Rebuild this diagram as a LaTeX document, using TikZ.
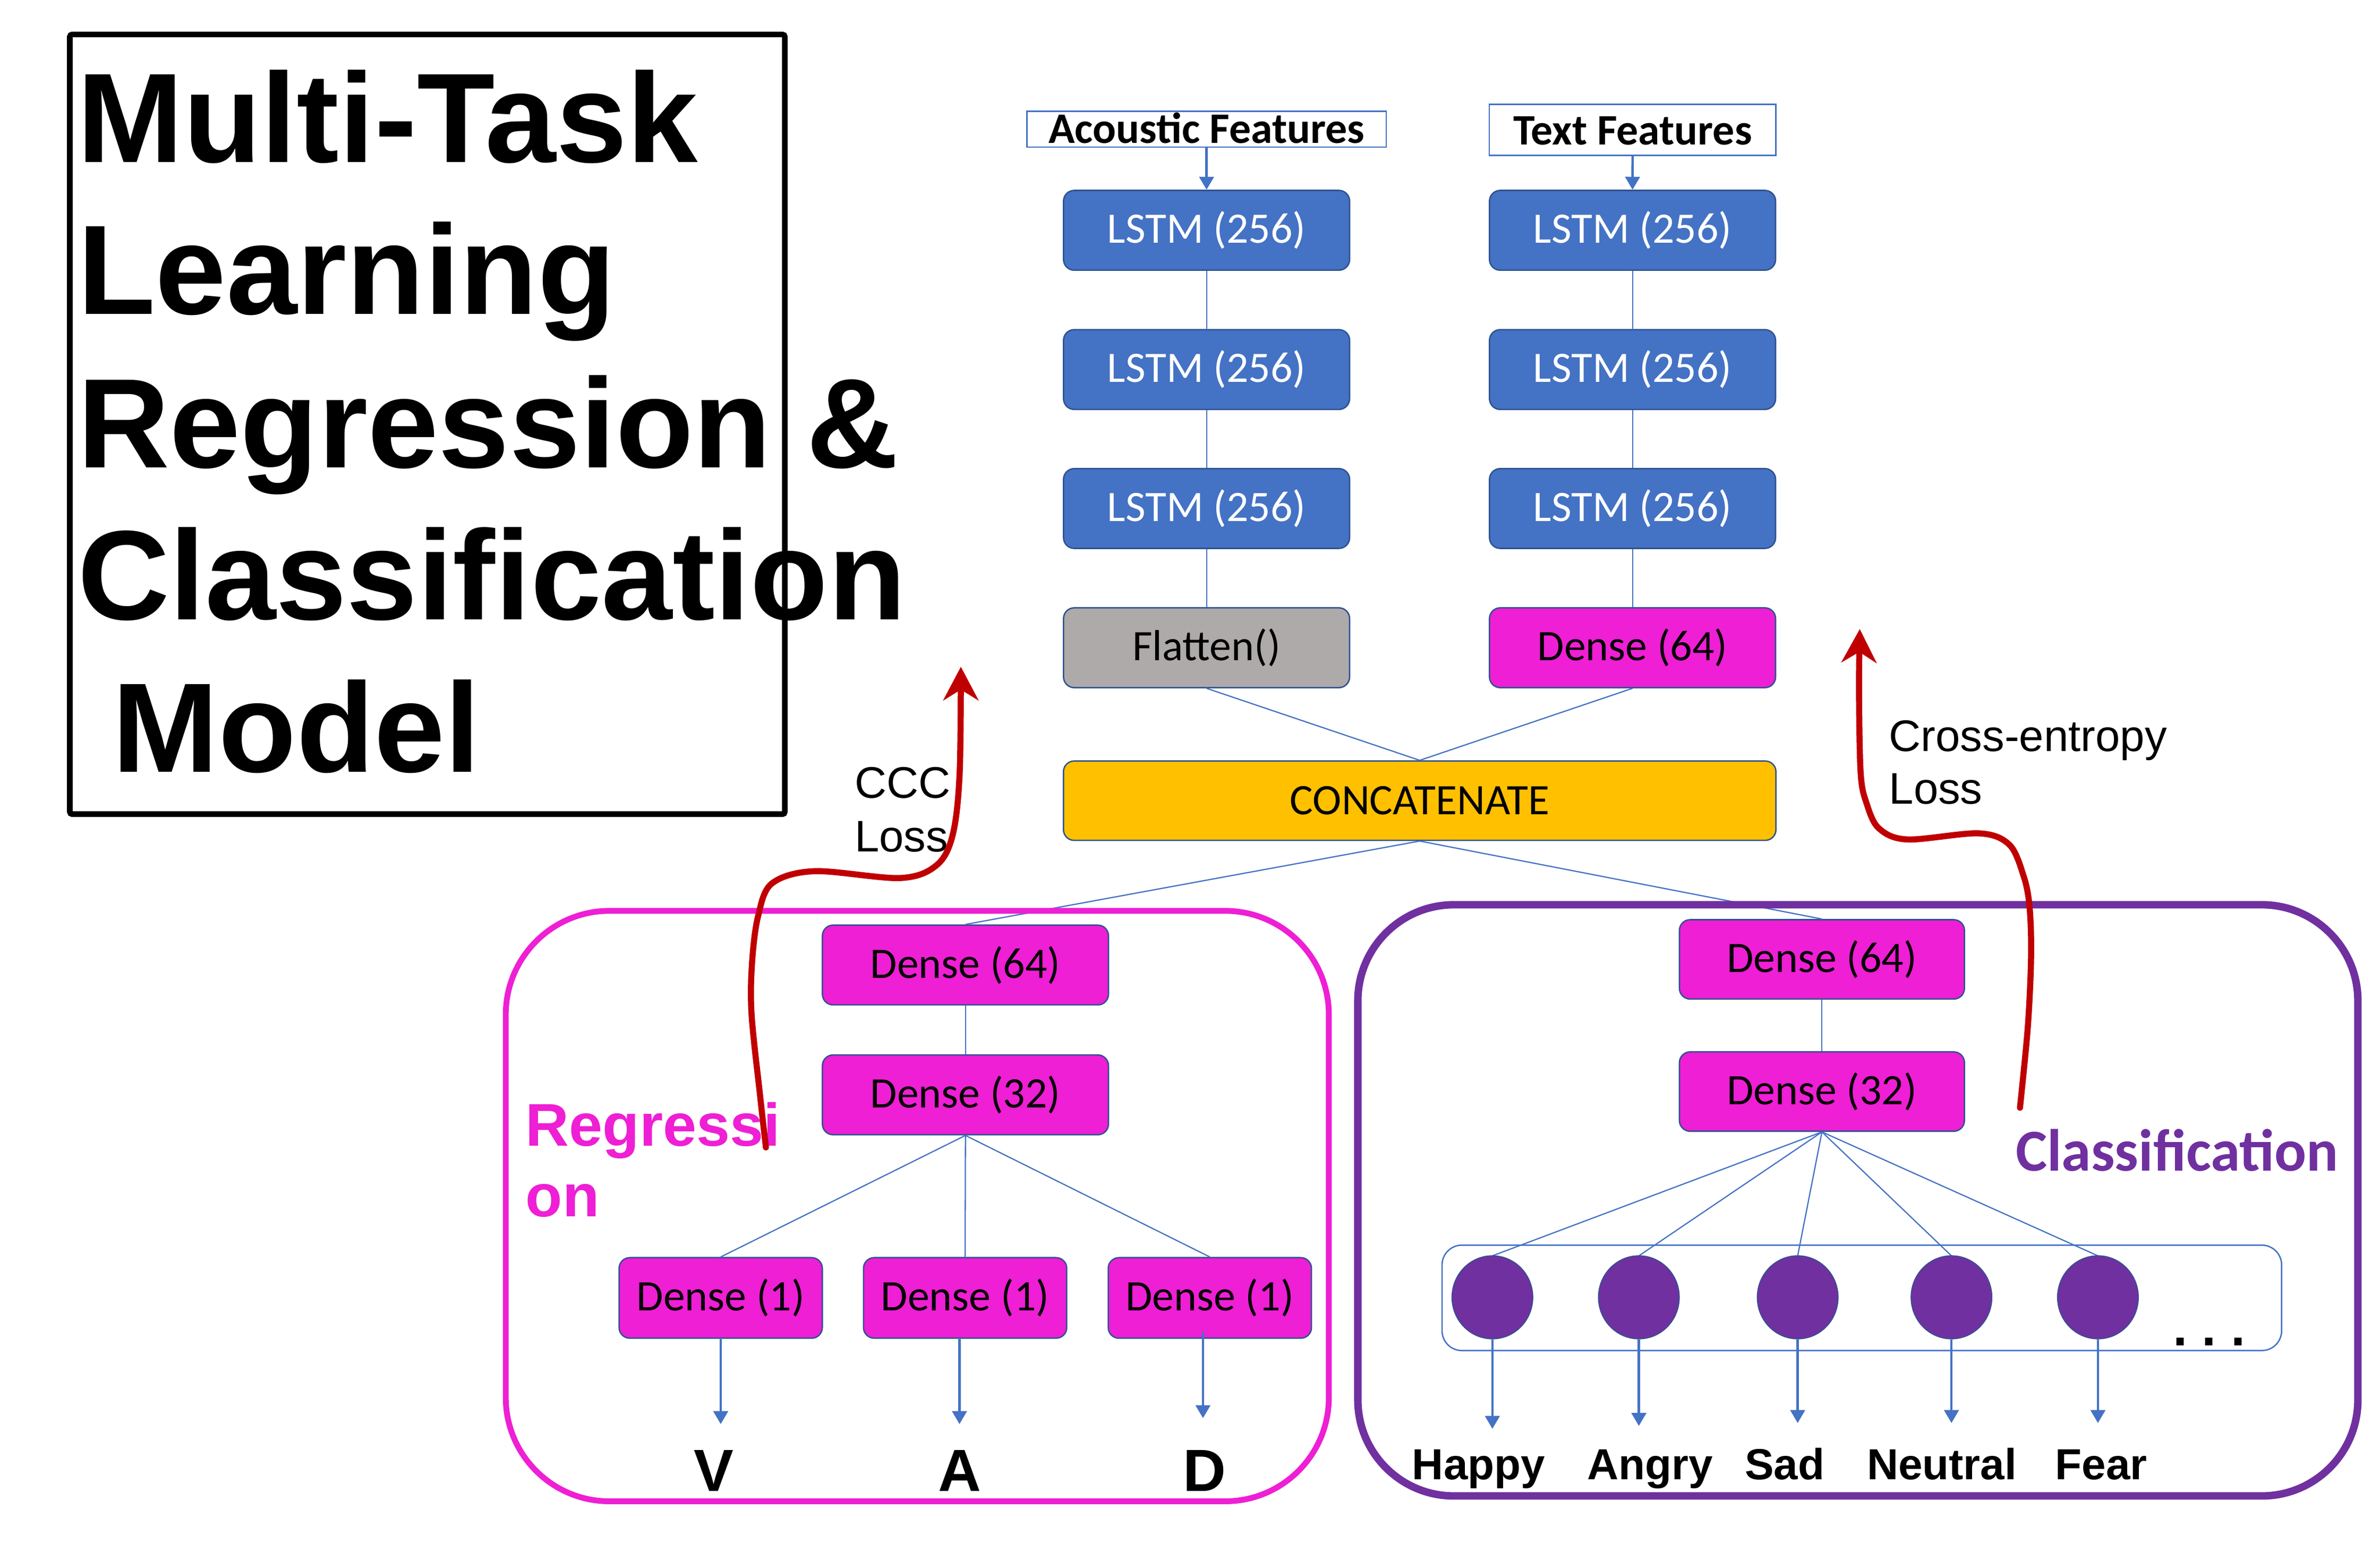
\documentclass[tikz,border=0pt]{standalone}
\usepackage{fontspec}
\newfontfamily\calib{Carlito}
\newfontfamily\arl{Liberation Sans}
\usetikzlibrary{arrows.meta,shapes.geometric}
\definecolor{lblue}{HTML}{4472C4}
\definecolor{bord}{HTML}{2F528F}
\definecolor{mag}{HTML}{EE1FD4}
\definecolor{grayb}{HTML}{AEAAAA}
\definecolor{gold}{HTML}{FFC000}
\definecolor{purp}{HTML}{7030A0}
\definecolor{redd}{HTML}{C00000}
\newcommand\fsz[1]{\fontsize{#1pt}{#1pt}\selectfont}
\begin{document}
\begin{tikzpicture}[x=1pt,y=-1pt,
  box/.style={draw=bord, line width=0.9pt, rounded corners=7pt, inner sep=0pt, minimum width=187.5pt, minimum height=52.3pt, font=\calib\fsz{28.5}},
  lstmbox/.style={box, fill=lblue, text=white},
  magbox/.style={box, fill=mag, text=black},
  flatbox/.style={box, fill=grayb, text=black},
  catbox/.style={box, fill=gold, text=black, minimum width=467pt, minimum height=52pt},
  unitbox/.style={magbox, minimum width=133.2pt, minimum height=52.8pt},
  featbox/.style={draw=lblue, line width=0.9pt, inner sep=0pt},
  feattext/.style={inner sep=0pt, anchor=base, font=\calib\bfseries\fsz{28.5}},
  conn/.style={draw=lblue, line width=0.8pt},
  barrow/.style={draw=lblue, line width=1.6pt, -{Triangle[length=8.5pt,width=9.5pt]}},
  lossarrow/.style={draw=redd, line width=4pt, line cap=round, -{Stealth[length=22pt,width=23pt,inset=7pt]}},
  unit/.style={ellipse, draw=bord, line width=0.6pt, fill=purp, minimum width=53pt, minimum height=54.5pt, inner sep=0pt},
  ttl/.style={inner sep=0pt, anchor=base west, font=\arl\bfseries\fsz{83.5}},
  lbl/.style={inner sep=0pt, anchor=base, font=\arl\bfseries\fsz{28.5}},
  vad/.style={inner sep=0pt, anchor=base, font=\arl\bfseries\fsz{39}},
  losstxt/.style={inner sep=0pt, anchor=base west, font=\arl\fsz{29}},
]
\useasboundingbox[fill=white] (0,0) rectangle (1560,1011);

% ---------- title ----------
\node[draw=black, line width=3.7pt, rounded corners=1.5pt, minimum width=468.6pt, minimum height=511pt, inner sep=0pt] (tbox) at (280.1,278.1) {};
\node[ttl] (t1) at (50.5,106.4) {Multi-Task};
\node[ttl] (t2) at (50.7,206) {Learning};
\node[ttl] (t3) at (50.7,306.5) {Regression \&};
\node[ttl] (t4) at (50.7,406) {Classification};
\node[ttl] (t5) at (73.5,506) {Model};

% ---------- inputs ----------
\node[featbox, minimum width=235.5pt, minimum height=23.6pt] (acf) at (790.85,84.7) {};
\node[feattext] (acft) at (790.9,93.9) {Acoustic Features};
\node[featbox, minimum width=187.8pt, minimum height=33.3pt] (txf) at (1070.1,85.15) {};
\node[feattext] (txft) at (1070.2,94.8) {Text Features};

% ---------- encoders ----------
\node[lstmbox] (l1) at (790.85,150.95) {LSTM (256)};
\node[lstmbox] (l2) at (790.85,242.2) {LSTM (256)};
\node[lstmbox] (l3) at (790.85,333.3) {LSTM (256)};
\node[flatbox] (fl) at (790.85,424.55) {Flatten()};
\node[lstmbox] (r1) at (1070.05,150.95) {LSTM (256)};
\node[lstmbox] (r2) at (1070.05,242.2) {LSTM (256)};
\node[lstmbox] (r3) at (1070.05,333.3) {LSTM (256)};
\node[magbox] (rd) at (1070.05,424.55) {Dense (64)};
\node[catbox] (cat) at (930.55,524.8) {CONCATENATE};

\draw[barrow] (acf.south) -- (l1.north);
\draw[barrow] (txf.south) -- (r1.north);
\draw[conn] (l1) -- (l2); \draw[conn] (l2) -- (l3); \draw[conn] (l3) -- (fl);
\draw[conn] (r1) -- (r2); \draw[conn] (r2) -- (r3); \draw[conn] (r3) -- (rd);
\draw[conn] (fl.south) -- (cat.north);
\draw[conn] (rd.south) -- (cat.north);

% ---------- regression head ----------
\node[magbox] (g64) at (632.8,632.5) {Dense (64)};
\node[magbox] (g32) at (632.8,717.6) {Dense (32)};
\node[unitbox] (oV) at (472.4,850.7) {Dense (1)};
\node[unitbox] (oA) at (632.6,850.7) {Dense (1)};
\node[unitbox] (oD) at (793,850.7) {Dense (1)};
\draw[conn] (cat.south) -- (g64.north);
\draw[conn] (g64) -- (g32);
\draw[conn] (g32.south) -- (oV.north);
\draw[conn] (g32.south) -- (oA.north);
\draw[conn] (g32.south) -- (oD.north);
\coordinate (tV) at (472.4,933.4);
\coordinate (tA) at (628.9,933.4);
\coordinate (tD) at (788.5,929.5);
\draw[barrow] (oV.south) -- (tV);
\draw[barrow] (tA |- oA.south) -- (tA);
\draw[barrow] (788.5,873) -- (tD);
\node[vad] (lV) at (468,977.3) {V};
\node[vad] (lA) at (628.9,977.3) {A};
\node[vad] (lD) at (789.6,977.3) {D};

\draw[mag, line width=3.8pt, rounded corners=68pt] (331.5,597) rectangle (871,984);
\node[inner sep=0pt, anchor=base west, text=mag, font=\arl\bfseries\fsz{39.5}] (reg1) at (344.4,751.2) {Regressi};
\node[inner sep=0pt, anchor=base west, text=mag, font=\arl\bfseries\fsz{39.5}] (reg2) at (344.4,797.4) {on};

% ---------- classification head ----------
\node[magbox, minimum width=186.8pt, minimum height=52pt] (c64) at (1194.2,628.8) {Dense (64)};
\node[magbox, minimum width=186.8pt, minimum height=52pt] (c32) at (1194.2,715.45) {Dense (32)};
\draw[conn] (cat.south) -- (c64.north);
\draw[conn] (c64) -- (c32);
\node[draw=lblue, line width=0.9pt, rounded corners=13pt, minimum width=550.3pt, minimum height=69.1pt, inner sep=0pt] (layer) at (1220.35,850.65) {};
\foreach \x in {978.2,1074.2,1178.3,1279.1,1375.1}{
  \draw[conn] (c32.south) -- (\x,823.1);
}
\node[unit] (e1) at (978.2,850.3) {};
\node[unit] (e2) at (1074.2,850.3) {};
\node[unit] (e3) at (1178.3,850.3) {};
\node[unit] (e4) at (1279.1,850.3) {};
\node[unit] (e5) at (1375.1,850.3) {};
\node[inner sep=0pt, anchor=base, font=\arl\bfseries\fsz{34}] (dots) at (1448,882) {.\ .\ .};
\coordinate (k1) at (978.2,936.5);
\coordinate (k2) at (1074.2,934.6);
\coordinate (k3) at (1178.3,932.7);
\coordinate (k4) at (1279.1,932.7);
\coordinate (k5) at (1375.1,932.7);
\draw[barrow] (e1.south) -- (k1);
\draw[barrow] (e2.south) -- (k2);
\draw[barrow] (e3.south) -- (k3);
\draw[barrow] (e4.south) -- (k4);
\draw[barrow] (e5.south) -- (k5);
\node[lbl] (n1) at (969.2,969.6) {Happy};
\node[lbl] (n2) at (1081.4,969.6) {Angry};
\node[lbl] (n3) at (1169.8,969.6) {Sad};
\node[lbl] (n4) at (1272.8,969.6) {Neutral};
\node[lbl] (n5) at (1377.2,969.6) {Fear};

\draw[purp, line width=4.9pt, rounded corners=63pt] (890,593) rectangle (1545.5,980.5);
\node[inner sep=0pt, anchor=base west, text=purp, font=\calib\bfseries\fsz{39}] (cls) at (1321,767.5) {Classification};

% ---------- losses ----------
\node[losstxt] (ccc1) at (560,523.2) {CCC};
\node[losstxt] (ccc2) at (560,558.2) {Loss};
\node[losstxt] (ce1) at (1238,492.4) {Cross-entropy};
\node[losstxt] (ce2) at (1238,526.8) {Loss};

\draw[lossarrow] plot[smooth, tension=0.55] coordinates {(502,752) (498.3,719) (492.6,664.6) (493,630) (497,600) (506,579) (534,571) (590,575.5) (614,567) (624.5,547) (629,507) (629.8,437)};
\draw[lossarrow] plot[smooth, tension=0.55] coordinates {(1324,726) (1329.2,672.3) (1331.3,625.7) (1330.2,593.5) (1326.2,573.6) (1317,553.6) (1297,546.2) (1250.3,550.2) (1231.6,543) (1223.6,527) (1219.6,507) (1218.5,453) (1219,412.3)};
\end{tikzpicture}
\end{document}
